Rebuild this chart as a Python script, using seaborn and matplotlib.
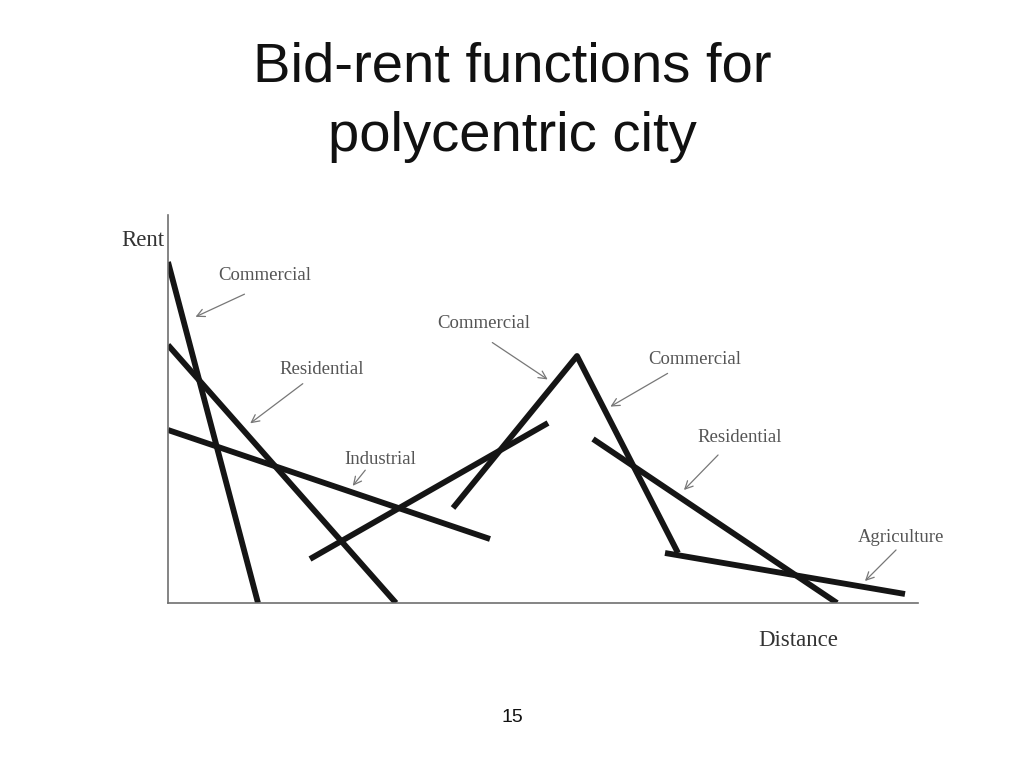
import pandas as pd
import numpy as np
import matplotlib.pyplot as plt
import seaborn as sns

# bid-rent segments, distance / rent in chart units (origin at axes corner)
seg_names = ["commercial_cbd", "residential_cbd", "industrial",
             "residential_rise", "commercial_sub", "residential_sub", "agriculture"]
seg_x = [[0, 90], [0, 228], [0, 322], [142, 380], [285, 409, 510], [425, 669], [497, 737]]
seg_y = [[341, 0], [258, 0], [173, 64], [44, 180], [95, 247, 50], [164, 0], [50, 9]]

# labels: text, text position, arrow tip
label_text = ["Commercial", "Residential", "Industrial", "Commercial",
              "Commercial", "Residential", "Agriculture"]
label_pos = [(97, 328), (154, 233), (212, 144), (316, 279),
             (527, 243), (572, 165), (733, 66)]
arrow_tip = [(25, 285), (80, 178), (183, 115), (382, 222),
             (440, 195), (514, 111), (695, 20)]
arrow_tail = [(79, 310), (137, 221), (199, 135), (322, 262),
              (502, 231), (552, 150), (730, 55)]

rows = []
for name, xs, ys in zip(seg_names, seg_x, seg_y):
    for i, (x, y) in enumerate(zip(xs, ys)):
        rows.append({"segment": name, "order": i, "distance": x, "rent": y})
df = pd.DataFrame(rows)

sns.set_style("white")
plt.rcParams["font.family"] = ["Liberation Sans", "DejaVu Sans"]

fig = plt.figure(figsize=(10.24, 7.68), dpi=100)
ax = fig.add_axes([168 / 1024, 165 / 768, 750 / 1024, 388 / 768])

sns.lineplot(data=df, x="distance", y="rent", units="segment", estimator=None,
             sort=False, color="#151515", lw=4.2, ax=ax, legend=False)
for line in ax.lines:
    line.set_solid_capstyle("butt")

ax.set_xlim(0, 750)
ax.set_ylim(0, 388)
ax.set_xticks([])
ax.set_yticks([])
ax.set_xlabel("")
ax.set_ylabel("")
for s in ["top", "right"]:
    ax.spines[s].set_visible(False)
for s in ["left", "bottom"]:
    ax.spines[s].set_color("#707070")
    ax.spines[s].set_linewidth(1.2)

serif = ["Liberation Serif", "DejaVu Serif"]
for txt, pos, tail, tip in zip(label_text, label_pos, arrow_tail, arrow_tip):
    ax.text(pos[0], pos[1], txt, ha="center", va="center", fontsize=13.5,
            color="#555555", family=serif)
    ax.annotate("", xy=tip, xytext=tail,
                arrowprops=dict(arrowstyle="->", color="#777777", lw=0.9,
                                mutation_scale=14))

fig.text(143 / 1024, 1 - 240 / 768, "Rent", ha="center", va="center",
         fontsize=16.5, color="#333333", family=serif)
fig.text(798 / 1024, 1 - 640 / 768, "Distance", ha="center", va="center",
         fontsize=16.5, color="#333333", family=serif)

fig.text(0.5, 1 - 82 / 768, "Bid-rent functions for", ha="center", va="baseline",
         fontsize=40.5, color="#111111")
fig.text(0.5, 1 - 151 / 768, "polycentric city", ha="center", va="baseline",
         fontsize=40.5, color="#111111")
fig.text(0.5, 1 - 718 / 768, "15", ha="center", va="center",
         fontsize=14, color="#111111")

fig.savefig("out.png", dpi=100)
